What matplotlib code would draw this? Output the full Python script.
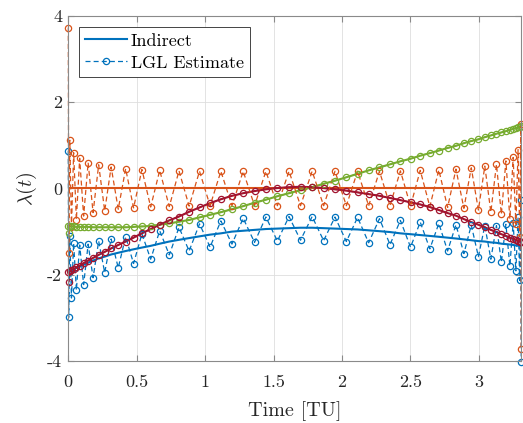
import numpy as np
import matplotlib
matplotlib.use("Agg")
import matplotlib.pyplot as plt

plt.rcParams['font.family'] = ['cmr10']
plt.rcParams['mathtext.fontset'] = 'cm'
plt.rcParams['axes.unicode_minus'] = False
plt.rcParams['axes.formatter.use_mathtext'] = True

# LGL collocation times [TU]
t = [0.000, 0.003, 0.011, 0.023, 0.039, 0.059, 0.083, 0.112, 0.145, 0.181, 0.222, 0.266, 0.313,
     0.365, 0.419, 0.477, 0.538, 0.602, 0.668, 0.738, 0.809, 0.883, 0.959, 1.036, 1.115, 1.196,
     1.278, 1.361, 1.444, 1.528, 1.613, 1.697, 1.782, 1.866, 1.949, 2.032, 2.114, 2.195, 2.274,
     2.351, 2.427, 2.501, 2.572, 2.642, 2.708, 2.772, 2.833, 2.891, 2.945, 2.997, 3.044, 3.088,
     3.129, 3.165, 3.198, 3.227, 3.251, 3.271, 3.287, 3.299, 3.307, 3.310]

# Indirect-method costates
lam1 = [-1.92, -1.92, -1.91, -1.89, -1.87, -1.84, -1.81, -1.77, -1.72, -1.67, -1.62, -1.58, -1.53,
        -1.49, -1.45, -1.41, -1.37, -1.33, -1.28, -1.23, -1.19, -1.15, -1.11, -1.07, -1.04, -1.00,
        -0.98, -0.96, -0.94, -0.93, -0.92, -0.91, -0.91, -0.92, -0.93, -0.94, -0.95, -0.97, -0.99,
        -1.01, -1.04, -1.06, -1.08, -1.10, -1.12, -1.14, -1.16, -1.18, -1.20, -1.22, -1.23, -1.25,
        -1.26, -1.28, -1.29, -1.30, -1.31, -1.32, -1.32, -1.33, -1.33, -1.33]
lam2 = [0.0] * 62
lam3 = [-0.88, -0.88, -0.88, -0.88, -0.88, -0.89, -0.89, -0.89, -0.89, -0.90, -0.90, -0.90, -0.90,
        -0.90, -0.90, -0.89, -0.88, -0.87, -0.84, -0.81, -0.77, -0.73, -0.67, -0.61, -0.55, -0.48,
        -0.41, -0.33, -0.26, -0.18, -0.11, -0.04, 0.03, 0.11, 0.18, 0.26, 0.34, 0.42, 0.49, 0.56,
        0.63, 0.69, 0.76, 0.82, 0.88, 0.94, 0.99, 1.05, 1.10, 1.14, 1.19, 1.23, 1.27, 1.30, 1.33,
        1.36, 1.38, 1.40, 1.42, 1.43, 1.44, 1.44]
lam4 = [-1.94, -1.93, -1.92, -1.90, -1.87, -1.83, -1.79, -1.73, -1.67, -1.61, -1.54, -1.47, -1.39,
        -1.31, -1.23, -1.14, -1.04, -0.94, -0.84, -0.74, -0.65, -0.54, -0.44, -0.34, -0.25, -0.17,
        -0.11, -0.06, -0.02, 0.01, 0.03, 0.04, 0.03, 0.01, -0.02, -0.05, -0.09, -0.13, -0.17, -0.22,
        -0.27, -0.32, -0.37, -0.43, -0.50, -0.57, -0.63, -0.71, -0.78, -0.84, -0.90, -0.96, -1.01,
        -1.06, -1.10, -1.14, -1.17, -1.19, -1.21, -1.23, -1.24, -1.24]

# LGL costate estimates
est1 = [0.87, -2.99, -1.10, -2.54, -1.27, -2.36, -1.31, -2.23, -1.29, -2.07, -1.22, -1.95, -1.17,
        -1.84, -1.12, -1.74, -1.05, -1.64, -0.98, -1.54, -0.90, -1.45, -0.82, -1.36, -0.75, -1.29,
        -0.69, -1.25, -0.66, -1.22, -0.65, -1.20, -0.65, -1.21, -0.66, -1.23, -0.67, -1.26, -0.70,
        -1.30, -0.74, -1.36, -0.78, -1.40, -0.81, -1.45, -0.84, -1.51, -0.85, -1.58, -0.86, -1.64,
        -0.86, -1.71, -0.83, -1.80, -0.79, -1.91, -0.67, -2.13, -0.26, -4.02]
est2 = [3.73, -1.49, 1.12, -0.90, 0.83, -0.72, 0.70, -0.64, 0.60, -0.56, 0.55, -0.52, 0.50, -0.48,
        0.46, -0.45, 0.44, -0.43, 0.42, -0.42, 0.41, -0.41, 0.40, -0.40, 0.40, -0.40, 0.40, -0.40,
        0.40, -0.40, 0.40, -0.40, 0.40, -0.40, 0.40, -0.40, 0.40, -0.40, 0.40, -0.40, 0.41, -0.41,
        0.42, -0.42, 0.43, -0.44, 0.45, -0.46, 0.48, -0.50, 0.52, -0.55, 0.56, -0.60, 0.64, -0.70,
        0.72, -0.83, 0.90, -1.12, 1.49, -3.73]
est3 = [-0.88, -1.03, -0.88, -0.88, -0.88, -0.89, -0.89, -0.89, -0.89, -0.90, -0.90, -0.90, -0.90,
        -0.90, -0.90, -0.89, -0.88, -0.87, -0.84, -0.81, -0.77, -0.73, -0.67, -0.61, -0.55, -0.48,
        -0.41, -0.33, -0.26, -0.18, -0.11, -0.04, 0.03, 0.11, 0.18, 0.26, 0.34, 0.42, 0.49, 0.56,
        0.63, 0.69, 0.76, 0.82, 0.88, 0.94, 0.99, 1.05, 1.10, 1.14, 1.19, 1.23, 1.27, 1.30, 1.33,
        1.36, 1.38, 1.40, 1.42, 1.43, 1.44, 1.44]
est4 = [-1.94, -2.17, -1.92, -1.90, -1.87, -1.83, -1.79, -1.73, -1.67, -1.61, -1.54, -1.47, -1.39,
        -1.31, -1.23, -1.14, -1.04, -0.94, -0.84, -0.74, -0.65, -0.54, -0.44, -0.34, -0.25, -0.17,
        -0.11, -0.06, -0.02, 0.01, 0.03, 0.04, 0.03, 0.01, -0.02, -0.05, -0.09, -0.13, -0.17, -0.22,
        -0.27, -0.32, -0.37, -0.43, -0.50, -0.57, -0.63, -0.71, -0.78, -0.84, -0.90, -0.96, -1.01,
        -1.06, -1.10, -1.14, -1.17, -1.19, -1.21, -1.23, -1.24, -1.24]

xtick_vals = [0, 0.5, 1, 1.5, 2, 2.5, 3]
xtick_text = ['0', '0.5', '1', '1.5', '2', '2.5', '3']
ytick_vals = [-4, -2, 0, 2, 4]
ytick_text = ['-4', '-2', '0', '2', '4']
colors = ['#0072BD', '#D95319', '#77AC30', '#A2142F']

fig = plt.figure(figsize=(5.23, 4.23), dpi=100)
ax = fig.add_axes([0.1306, 0.1466, 0.866, 0.8156])

h_ind = []
for v, cl in zip([lam1, lam2, lam3, lam4], colors):
    h_ind.append(ax.plot(t, v, color=cl, lw=1.5)[0])
h_est = []
for v, cl in zip([est1, est2, est3, est4], colors):
    h_est.append(ax.plot(t, v, linestyle=(0, (4, 2.5)), marker='o', color=cl, lw=0.9, ms=4.5,
                         mew=0.9, mfc='none', clip_on=False)[0])

ax.set_xlim(0, 3.31)
ax.set_ylim(-4, 4)
ax.set_xticks(xtick_vals)
ax.set_xticklabels(xtick_text)
ax.set_yticks(ytick_vals)
ax.set_yticklabels(ytick_text)
ax.grid(True, color='#dedede', lw=0.6)
ax.set_axisbelow(True)
for s in ax.spines.values():
    s.set_color('#8a8a8a')
    s.set_linewidth(0.8)
ax.tick_params(direction='in', top=True, right=True, length=4, width=0.8, color='#8a8a8a',
               labelsize=13, labelcolor='#262626')
ax.tick_params(axis='x', pad=10)
ax.tick_params(axis='y', pad=4.5)
ax.set_xlabel('Time [TU]', fontsize=14.5, color='#262626', labelpad=8)
ax.set_ylabel(r'$\lambda(t)$', fontsize=14.5, color='#262626', labelpad=6)
leg = ax.legend([h_ind[0], h_est[0]], ['Indirect', 'LGL Estimate'], loc='upper left',
                fontsize=13, fancybox=False, framealpha=1, edgecolor='#262626',
                borderaxespad=0.6, handlelength=2.3, handletextpad=0.2, borderpad=0.35,
                labelspacing=0.35)
leg.get_frame().set_linewidth(0.6)
fig.savefig('out.png')
